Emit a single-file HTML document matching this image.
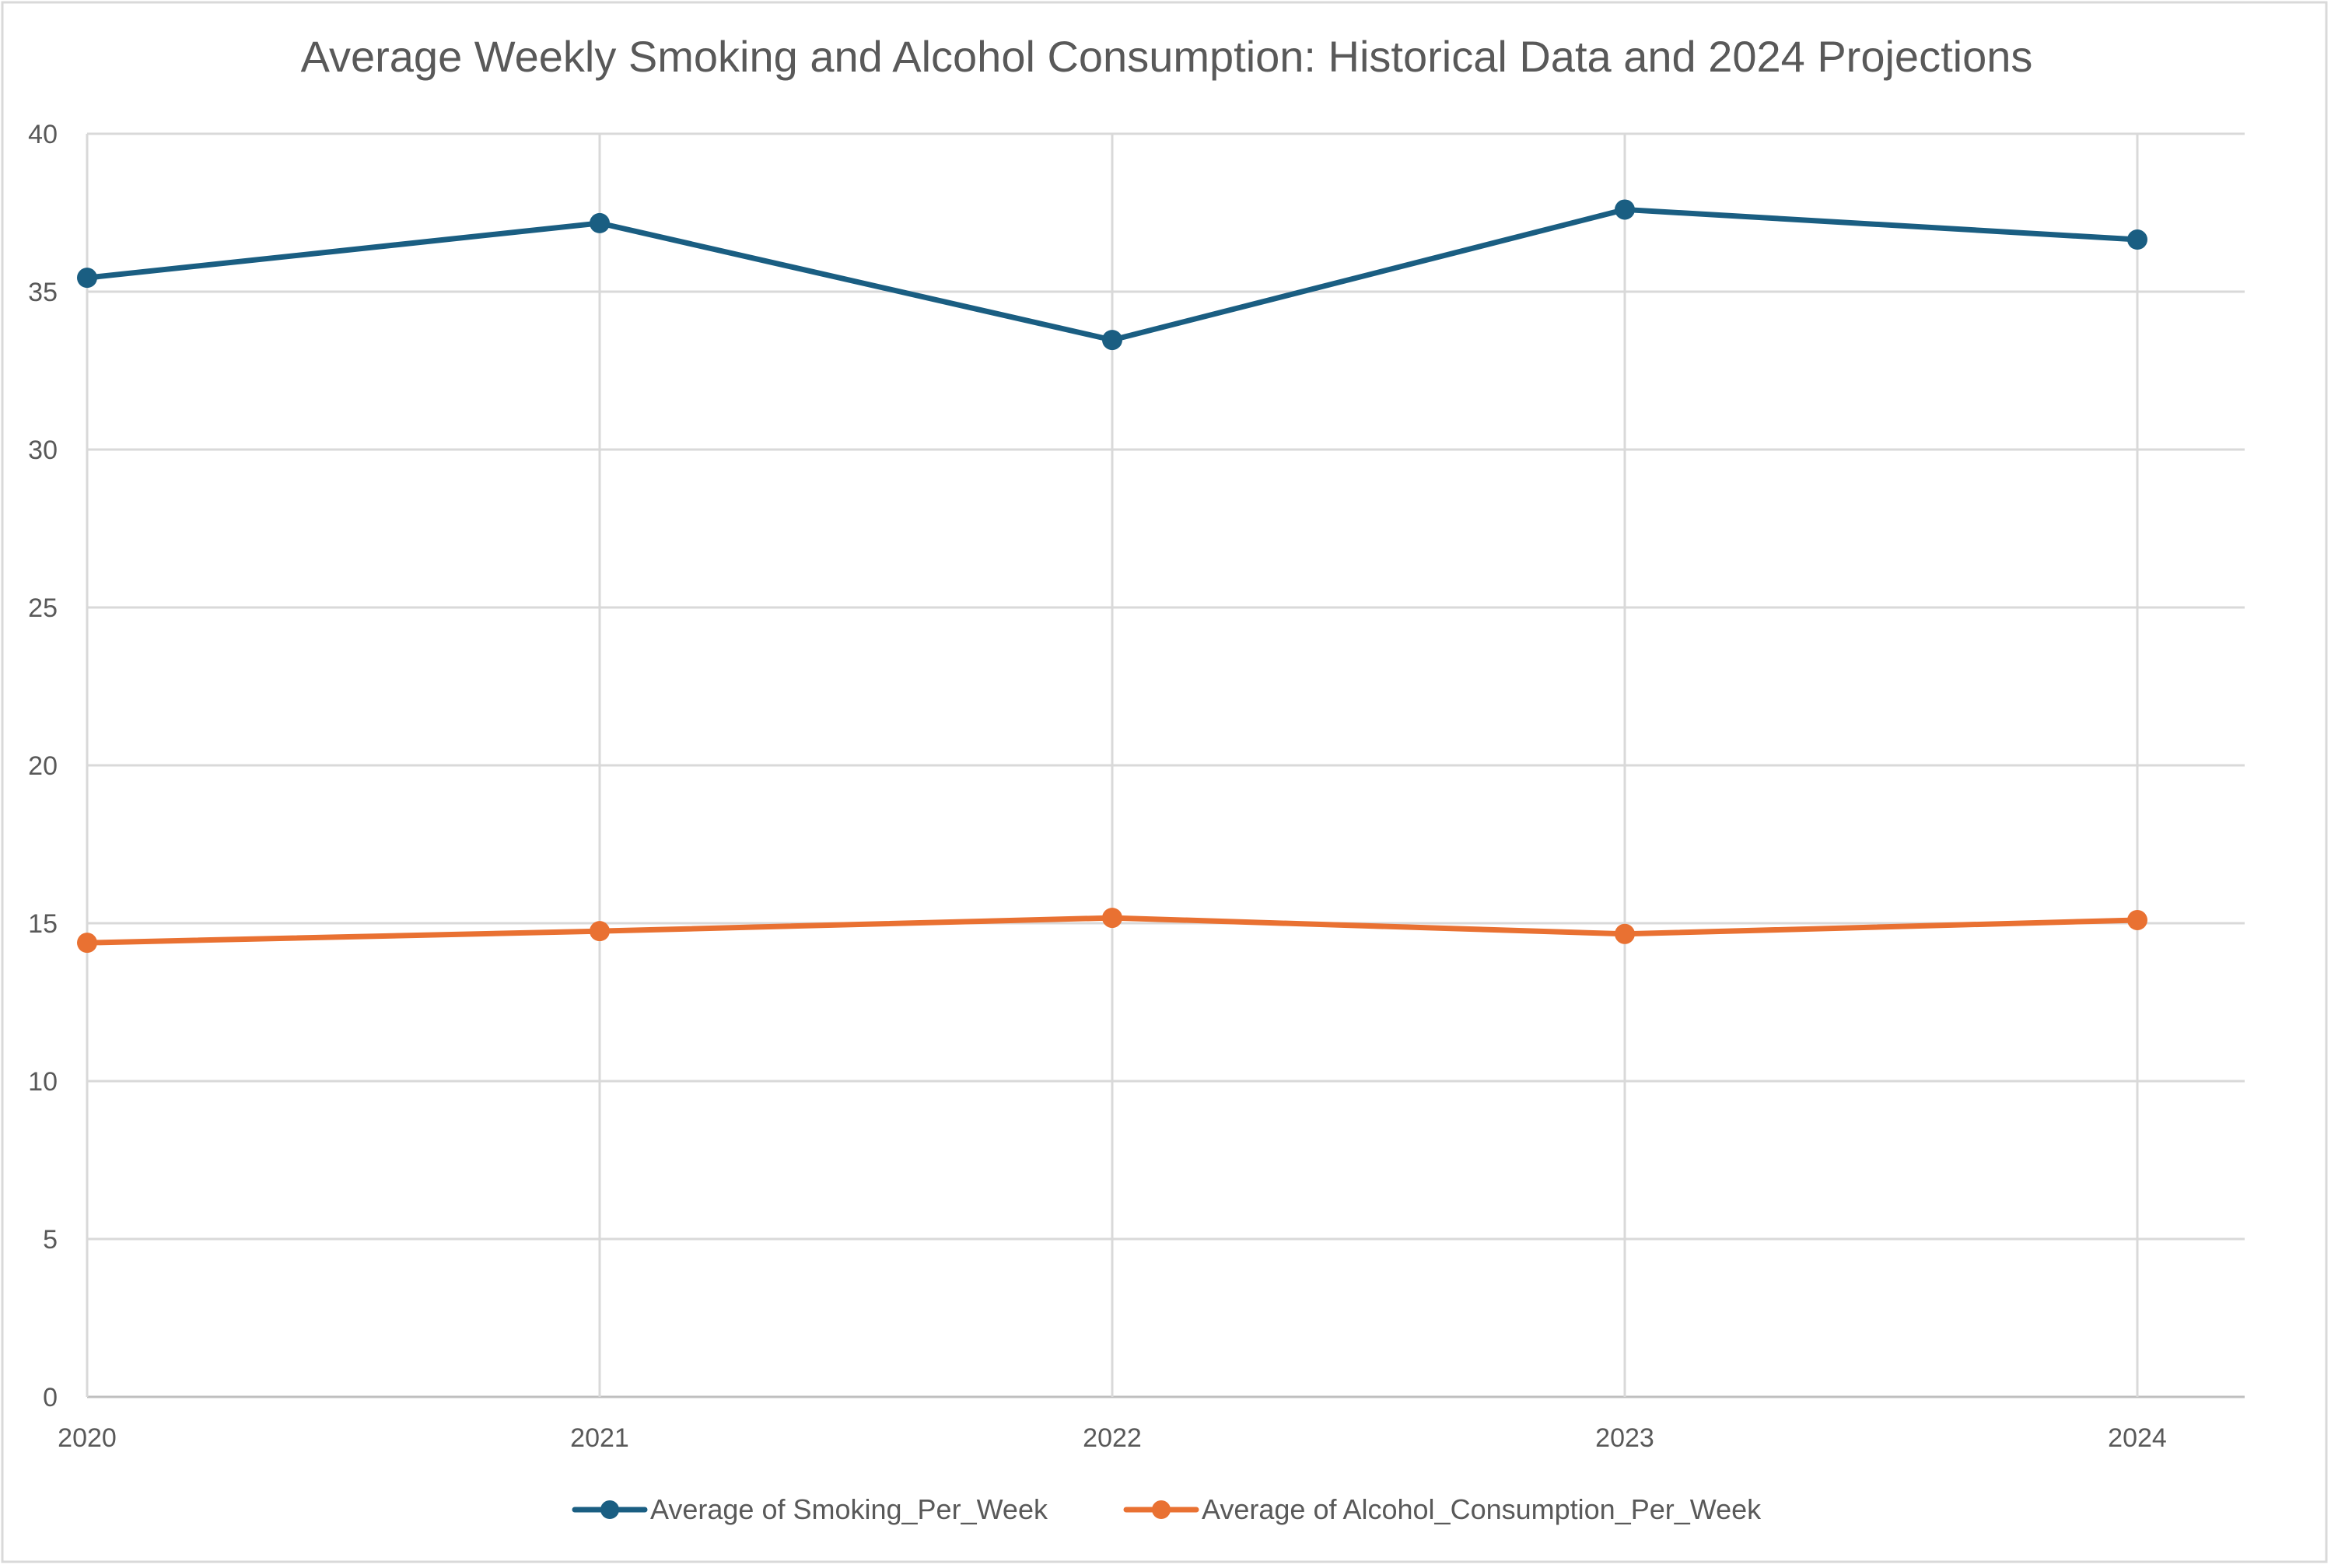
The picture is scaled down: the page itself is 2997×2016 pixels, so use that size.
<!DOCTYPE html>
<html><head><meta charset="utf-8"><style>
html,body{margin:0;padding:0;background:#fff}
svg{display:block;font-family:"Liberation Sans",sans-serif}
</style></head><body>
<svg id="chart" width="2997" height="2016">
<rect x="3" y="3" width="2988" height="2005" fill="#fff" stroke="#d9d9d9" stroke-width="3"/>
<text x="1500" y="92" text-anchor="middle" font-size="56" fill="#595959">Average Weekly Smoking and Alcohol Consumption: Historical Data and 2024 Projections</text>
<g id="grid"></g><g id="series"></g>
<g>
<g>
<line x1="739" y1="1941" x2="829" y2="1941" stroke="#1a5e82" stroke-width="7" stroke-linecap="round"/>
<circle cx="784" cy="1941" r="12" fill="#1a5e82"/>
<text x="836" y="1953" font-size="36" fill="#595959">Average of Smoking_Per_Week</text></g>
<g>
<line x1="1448" y1="1941" x2="1538" y2="1941" stroke="#e97132" stroke-width="7" stroke-linecap="round"/>
<circle cx="1493" cy="1941" r="12" fill="#e97132"/>
<text x="1545" y="1953" font-size="36" fill="#595959">Average of Alcohol_Consumption_Per_Week</text></g>
</g>
</svg>
<script>
const categories=["2020","2021","2022","2023","2024"];
const smoking=[35.44,37.17,33.47,37.6,36.65];
const alcohol=[14.38,14.75,15.17,14.66,15.1];
const yTicks=[0,5,10,15,20,25,30,35,40];
const NS="http://www.w3.org/2000/svg";
const L=112,R=2886,T=172,B=1796,step=659;
const x=i=>L+i*step;
const y=v=>B-(v/40)*(B-T);
function mk(tag,attrs,parent){const e=document.createElementNS(NS,tag);for(const k in attrs)e.setAttribute(k,attrs[k]);parent.appendChild(e);return e;}
const grid=document.getElementById('grid');
yTicks.forEach(t=>{
 const ln=mk('line',{x1:L,x2:R,y1:y(t),y2:y(t),stroke:t===0?'#bfbfbf':'#d9d9d9','stroke-width':3},grid);
 
 
 const tx=mk('text',{x:74,y:y(t)+12,'text-anchor':'end','font-size':34,fill:'#595959'},grid);
 tx.textContent=t;
 
 
});
mk('line',{x1:L,x2:L,y1:T,y2:B,stroke:'#d9d9d9','stroke-width':3},grid);
categories.forEach((c,i)=>{
 if(i>0){const g=mk('line',{x1:x(i),x2:x(i),y1:T,y2:B,stroke:'#d9d9d9','stroke-width':3},grid);
 
 }
 const tx=mk('text',{x:x(i),y:1860,'text-anchor':'middle','font-size':34,fill:'#595959'},grid);
 tx.textContent=c;
 
 
});
const ser=document.getElementById('series');
[[smoking,'#1a5e82','smoking'],[alcohol,'#e97132','alcohol']].forEach(([d,col,nm])=>{
 const p=mk('polyline',{points:d.map((v,i)=>x(i)+','+y(v)).join(' '),fill:'none',stroke:col,'stroke-width':7,'stroke-linejoin':'round'},ser);
 
 
 d.forEach((v,i)=>{
  const c=mk('circle',{cx:x(i),cy:y(v),r:13,fill:col},ser);
  
  
 });
});
</script>
</body></html>
